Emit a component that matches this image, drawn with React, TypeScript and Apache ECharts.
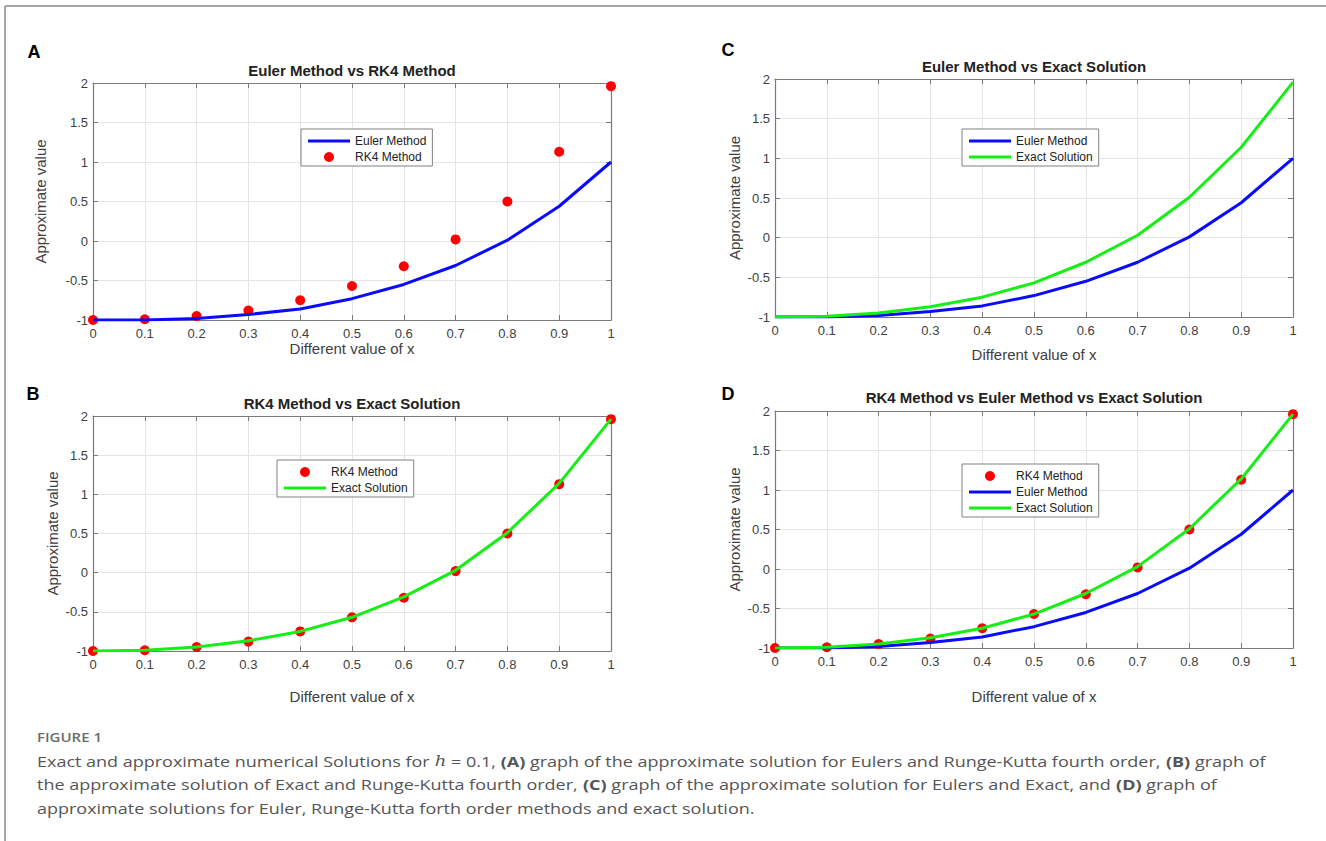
import React, { useEffect, useRef } from "react";
import * as echarts from "echarts";

// ---- data ----
const xValues = [0, 0.1, 0.2, 0.3, 0.4, 0.5, 0.6, 0.7, 0.8, 0.9, 1];
const eulerValues = [-1, -1, -0.98, -0.93, -0.86, -0.73, -0.55, -0.31, 0.01, 0.44, 1.0];
const rk4Values = [-1, -0.99, -0.95, -0.88, -0.75, -0.57, -0.32, 0.02, 0.5, 1.13, 1.96];
const exactValues = [-1, -0.99, -0.95, -0.87, -0.75, -0.57, -0.31, 0.03, 0.51, 1.14, 1.96];

const panelLetters = ["A", "B", "C", "D"];
const panelTitles = [
  "Euler Method vs RK4 Method",
  "RK4 Method vs Exact Solution",
  "Euler Method vs Exact Solution",
  "RK4 Method vs Euler Method vs Exact Solution",
];
const xAxisName = "Different value of x";
const yAxisName = "Approximate value";
const xMin = 0, xMax = 1, xStep = 0.1;
const yMin = -1, yMax = 2, yStep = 0.5;

const captionHeading = "FIGURE 1";
const captionLines = [
  "Exact and approximate numerical Solutions for {i|h} = 0.1, {b|(A)} graph of the approximate solution for Eulers and Runge-Kutta fourth order, {b|(B)} graph of",
  "the approximate solution of Exact and Runge-Kutta fourth order, {b|(C)} graph of the approximate solution for Eulers and Exact, and {b|(D)} graph of",
  "approximate solutions for Euler, Runge-Kutta forth order methods and exact solution.",
];

type SeriesKey = "euler" | "rk4" | "exact";
const seriesDefs: Record<SeriesKey, { name: string; values: number[]; kind: "line" | "scatter"; color: string }> = {
  euler: { name: "Euler Method", values: eulerValues, kind: "line", color: "#0a0aff" },
  rk4: { name: "RK4 Method", values: rk4Values, kind: "scatter", color: "#ff0000" },
  exact: { name: "Exact Solution", values: exactValues, kind: "line", color: "#14f014" },
};

// ---- layout (pixels) ----
const layouts = [
  { grid: { left: 93, top: 83, width: 518, height: 237 }, letter: [34, 52], title: [352, 70], legend: [301, 129], xNameGap: 19, yNameGap: 45, series: ["euler", "rk4"] as SeriesKey[] },
  { grid: { left: 93, top: 416, width: 518, height: 235 }, letter: [33, 394], title: [352, 403], legend: [277, 460], xNameGap: 38, yNameGap: 33, series: ["rk4", "exact"] as SeriesKey[] },
  { grid: { left: 775, top: 79, width: 518, height: 238 }, letter: [728, 50], title: [1034, 66], legend: [962, 129], xNameGap: 30, yNameGap: 33, series: ["euler", "exact"] as SeriesKey[] },
  { grid: { left: 775, top: 411, width: 518, height: 237 }, letter: [728, 394], title: [1034, 397], legend: [962, 464], xNameGap: 41, yNameGap: 33, series: ["rk4", "euler", "exact"] as SeriesKey[] },
];

const FONT = "'Liberation Sans', Arial, Helvetica, sans-serif";
const CAPFONT = "'Open Sans', 'Noto Sans', sans-serif";
const AXIS_COLOR = "#7a7a7a";
const LABEL_COLOR = "#404040";
const GRID_COLOR = "#e4e4e4";
const LINE_ICON = "path://M0,0L0,0M0,3.5L42,3.5L42,6.5L0,6.5ZM42,10L42,10";
const CAP_SCALE = 1.2;

function buildOption() {
  const grid: any[] = [];
  const xAxis: any[] = [];
  const yAxis: any[] = [];
  const series: any[] = [];
  const legend: any[] = [];
  const graphic: any[] = [];

  layouts.forEach((L, i) => {
    grid.push({ ...L.grid, show: false });
    const axisLine = { show: true, onZero: false, lineStyle: { color: AXIS_COLOR, width: 1.2 } };
    const tick = { show: true, inside: true, length: 5, lineStyle: { color: AXIS_COLOR, width: 1 } };
    xAxis.push({
      type: "value", gridIndex: i, position: "bottom", min: xMin, max: xMax, interval: xStep,
      axisLine, axisTick: tick,
      axisLabel: { color: LABEL_COLOR, fontSize: 13, fontFamily: FONT, margin: 7, formatter: (v: number) => String(Math.round(v * 10) / 10) },
      splitLine: { show: true, lineStyle: { color: GRID_COLOR, width: 1 } },
      name: xAxisName, nameLocation: "middle", nameGap: L.xNameGap,
      nameTextStyle: { fontSize: 15, color: LABEL_COLOR, fontFamily: FONT },
    });
    xAxis.push({
      type: "value", gridIndex: i, position: "top", min: xMin, max: xMax, interval: xStep,
      axisLine, axisTick: tick, axisLabel: { show: false }, splitLine: { show: false },
    });
    yAxis.push({
      type: "value", gridIndex: i, position: "left", min: yMin, max: yMax, interval: yStep,
      axisLine, axisTick: tick,
      axisLabel: { color: LABEL_COLOR, fontSize: 13, fontFamily: FONT, margin: 5, formatter: (v: number) => String(v) },
      splitLine: { show: true, lineStyle: { color: GRID_COLOR, width: 1 } },
      name: yAxisName, nameLocation: "middle", nameGap: L.yNameGap,
      nameTextStyle: { fontSize: 15, color: LABEL_COLOR, fontFamily: FONT },
    });
    yAxis.push({
      type: "value", gridIndex: i, position: "right", min: yMin, max: yMax, interval: yStep,
      axisLine, axisTick: tick, axisLabel: { show: false }, splitLine: { show: false },
    });

    L.series.forEach((key) => {
      const d = seriesDefs[key];
      const data = xValues.map((x, j) => [x, d.values[j]]);
      if (d.kind === "line") {
        series.push({
          type: "line", name: d.name, xAxisIndex: 2 * i, yAxisIndex: 2 * i, data,
          symbol: "none", showSymbol: false, lineStyle: { color: d.color, width: 3 },
          itemStyle: { color: d.color }, silent: true,
        });
      } else {
        series.push({
          type: "scatter", name: d.name, xAxisIndex: 2 * i, yAxisIndex: 2 * i, data,
          symbol: "circle", symbolSize: 10, itemStyle: { color: d.color, opacity: 1 }, silent: true,
        });
      }
    });

    legend.push({
      data: L.series.map((k) => ({
        name: seriesDefs[k].name,
        icon: seriesDefs[k].kind === "line" ? LINE_ICON : "circle",
      })),
      orient: "vertical", left: L.legend[0], top: L.legend[1],
      itemWidth: 42, itemHeight: 10, itemGap: 4,
      padding: [6, 6, 3, 7],
      borderColor: "#808080", borderWidth: 1, backgroundColor: "#ffffff",
      textStyle: { fontSize: 12, color: "#222", fontFamily: FONT },
      selectedMode: false,
    });

    graphic.push({
      type: "text", x: L.letter[0], y: L.letter[1],
      style: { text: panelLetters[i], fontSize: 18, fontWeight: "bold", fontFamily: FONT, fill: "#000", align: "center", verticalAlign: "middle" },
    });
    graphic.push({
      type: "text", x: L.title[0], y: L.title[1],
      style: { text: panelTitles[i], fontSize: 15, fontWeight: "bold", fontFamily: FONT, fill: "#222", align: "center", verticalAlign: "middle" },
    });
  });

  // frame
  graphic.push({ type: "line", shape: { x1: 5, y1: 6, x2: 1326, y2: 6 }, style: { stroke: "#8a8a8a", lineWidth: 1.5 } });
  graphic.push({ type: "line", shape: { x1: 5, y1: 6, x2: 5, y2: 841 }, style: { stroke: "#8a8a8a", lineWidth: 1.5 } });

  // caption
  graphic.push({
    type: "text", x: 37, y: 737, scaleX: CAP_SCALE,
    style: { text: captionHeading, fontSize: 12.5, fontWeight: 600, fontFamily: CAPFONT, fill: "#6b6b6b", verticalAlign: "middle" },
  });
  const capBase = { fontSize: 15, fontFamily: CAPFONT, fill: "#555" };
  captionLines.forEach((line, k) => {
    graphic.push({
      type: "text", x: 37, y: 761 + k * 23.5, scaleX: CAP_SCALE,
      style: {
        text: line, ...capBase, verticalAlign: "middle",
        rich: {
          b: { ...capBase, fontWeight: "bold" },
          i: { ...capBase, fontStyle: "italic", fontFamily: "'DejaVu Serif', serif" },
        },
      },
    });
  });

  return {
    animation: false,
    backgroundColor: "#ffffff",
    grid, xAxis, yAxis, series, legend, graphic,
  };
}

export default function App() {
  const ref = useRef<HTMLDivElement>(null);
  useEffect(() => {
    document.body.style.margin = "0";
    if (!ref.current) return;
    const chart = echarts.init(ref.current, null, { renderer: "svg" });
    chart.setOption(buildOption() as any);
    return () => chart.dispose();
  }, []);
  return <div ref={ref} style={{ width: 1326, height: 841, background: "#fff" }} />;
}
